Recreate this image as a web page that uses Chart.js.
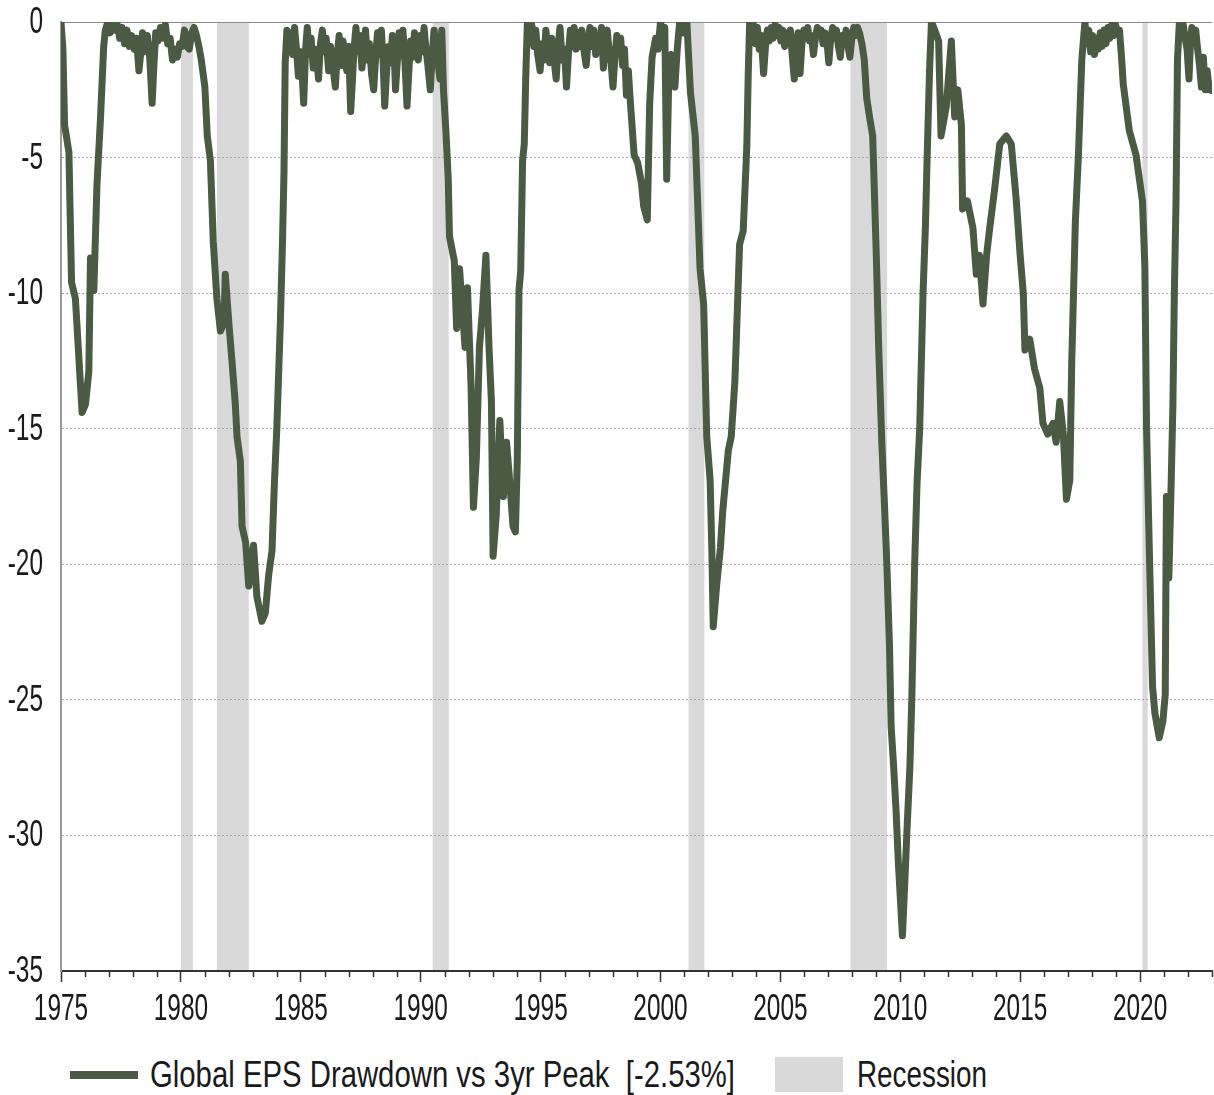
<!DOCTYPE html>
<html>
<head>
<meta charset="utf-8">
<script src="https://cdn.jsdelivr.net/npm/chart.js@4.4.1/dist/chart.umd.min.js"></script>
<style>
  body { margin: 0; background: #ffffff; }
  #wrap { position: relative; width: 1214px; height: 1095px; overflow: hidden; }
  #chart-box { position: absolute; left: 0; top: 0; width: 1214px; height: 1040px; }
  .lg-text {
    position: absolute; top: 1054px; height: 42px; line-height: 42px;
    font-family: "Liberation Sans", Arial, sans-serif;
    font-size: 37px; color: #1a1a1a; white-space: pre;
    transform-origin: 0 50%;
  }
  .lg-line { position: absolute; left: 70px; top: 1071px; width: 68px; height: 8px; background: #4a5a43; }
  .lg-box { position: absolute; left: 775px; top: 1057px; width: 68px; height: 35px; background: #d9d9d9; }
</style>
</head>
<body>
<div id="wrap">
  <div id="chart-box"><canvas id="chart-canvas"></canvas></div>
  <div class="lg-line"></div>
  <div class="lg-text" id="lg-series" style="left:150px" data-width="585">Global EPS Drawdown vs 3yr Peak  [-2.53%]</div>
  <div class="lg-box"></div>
  <div class="lg-text" id="lg-rec" style="left:857px" data-width="130">Recession</div>
</div>
<script>
// ----- data (decimal year, % drawdown vs 3yr peak) -----
var years = [
  // 1975-76 drawdown
  1975.00, 1975.08, 1975.15, 1975.33, 1975.44, 1975.60, 1975.74, 1975.88, 1976.02, 1976.16,
  1976.23, 1976.37, 1976.50, 1976.65, 1976.78,
  // late 70s near peak
  1976.85, 1976.95, 1977.05, 1977.15, 1977.25, 1977.35, 1977.45, 1977.55, 1977.65, 1977.75,
  1977.85, 1977.95, 1978.05, 1978.15, 1978.25, 1978.32, 1978.40, 1978.50, 1978.60, 1978.70,
  1978.80, 1978.88, 1978.95, 1979.05, 1979.15, 1979.25, 1979.35, 1979.45, 1979.55, 1979.65,
  1979.75, 1979.85, 1979.95, 1980.05, 1980.15, 1980.25, 1980.35, 1980.45, 1980.55, 1980.65,
  1980.75, 1980.85,
  // early 80s drawdown
  1981.00, 1981.10, 1981.23, 1981.35, 1981.50, 1981.65, 1981.80, 1981.85, 1982.00, 1982.13,
  1982.27, 1982.34, 1982.48, 1982.55, 1982.70, 1982.83, 1983.03, 1983.17, 1983.38, 1983.52,
  1983.66, 1983.80, 1983.90, 1984.00, 1984.15, 1984.24, 1984.30, 1984.35,
  // mid/late 80s
  1984.42, 1984.50, 1984.58, 1984.66, 1984.74, 1984.82, 1984.90, 1984.98, 1985.05, 1985.12,
  1985.20, 1985.27, 1985.35, 1985.43, 1985.52, 1985.60, 1985.67, 1985.74, 1985.82, 1985.90,
  1985.98, 1986.06, 1986.16, 1986.24, 1986.32, 1986.44, 1986.52, 1986.60, 1986.68, 1986.76,
  1986.84, 1986.92, 1987.00, 1987.08, 1987.15, 1987.22, 1987.30, 1987.38, 1987.46, 1987.55,
  1987.63, 1987.70, 1987.78, 1987.86, 1987.95, 1988.04, 1988.12, 1988.20, 1988.28, 1988.36,
  1988.44, 1988.50, 1988.58, 1988.66, 1988.74, 1988.82, 1988.90, 1988.95, 1989.03, 1989.10,
  1989.18, 1989.26, 1989.35, 1989.43, 1989.50, 1989.58, 1989.66, 1989.74, 1989.82, 1989.90,
  1989.98, 1990.06, 1990.14, 1990.22, 1990.30, 1990.40, 1990.48, 1990.56, 1990.64, 1990.72,
  1990.80, 1990.88,
  // early 90s drawdown
  1990.95, 1991.05, 1991.15, 1991.20, 1991.40, 1991.50, 1991.62, 1991.85, 1991.95, 1992.10,
  1992.20, 1992.32, 1992.45, 1992.58, 1992.72, 1992.85, 1992.95, 1993.02, 1993.15, 1993.30,
  1993.45, 1993.58, 1993.70, 1993.85, 1993.95, 1994.03, 1994.10, 1994.17, 1994.25, 1994.32,
  1994.38,
  // mid/late 90s
  1994.45, 1994.55, 1994.63, 1994.72, 1994.80, 1994.88, 1994.98, 1995.06, 1995.14, 1995.22,
  1995.30, 1995.38, 1995.46, 1995.55, 1995.65, 1995.73, 1995.81, 1995.90, 1996.00, 1996.08,
  1996.16, 1996.24, 1996.32, 1996.40, 1996.48, 1996.56, 1996.64, 1996.72, 1996.80, 1996.90,
  1996.98, 1997.06, 1997.14, 1997.22, 1997.30, 1997.38, 1997.46, 1997.54, 1997.62, 1997.70,
  1997.78, 1997.86, 1997.94, 1998.02, 1998.10, 1998.18, 1998.26, 1998.34, 1998.42, 1998.50,
  1998.58, 1998.66, 1998.74,
  // 1999 dip and dot-com drawdown
  1998.90, 1999.05, 1999.20, 1999.30, 1999.45, 1999.55, 1999.65, 1999.80, 1999.90, 2000.00,
  2000.10, 2000.18, 2000.26, 2000.35, 2000.45, 2000.60, 2000.70, 2000.80, 2000.95, 2001.10,
  2001.25, 2001.45, 2001.65, 2001.80, 2001.93, 2002.07, 2002.14, 2002.20, 2002.35, 2002.50,
  2002.60, 2002.83, 2002.95, 2003.10, 2003.30, 2003.45, 2003.60, 2003.66,
  // 2003-2008 near peak
  2003.72, 2003.80, 2003.88, 2003.96, 2004.04, 2004.12, 2004.20, 2004.30, 2004.38, 2004.46,
  2004.54, 2004.62, 2004.70, 2004.78, 2004.86, 2004.94, 2005.02, 2005.10, 2005.18, 2005.26,
  2005.34, 2005.42, 2005.50, 2005.58, 2005.66, 2005.74, 2005.82, 2005.90, 2005.98, 2006.06,
  2006.14, 2006.22, 2006.30, 2006.38, 2006.46, 2006.54, 2006.62, 2006.70, 2006.78, 2006.86,
  2006.94, 2007.02, 2007.10, 2007.18, 2007.26, 2007.34, 2007.42, 2007.50, 2007.58, 2007.66,
  2007.74, 2007.82, 2007.90, 2007.98, 2008.06, 2008.14, 2008.22, 2008.30, 2008.40, 2008.50,
  // GFC
  2008.60, 2008.72, 2008.85, 2009.00, 2009.10, 2009.23, 2009.35, 2009.44, 2009.55, 2009.62,
  2009.72, 2009.82, 2009.92, 2010.09, 2010.20, 2010.27, 2010.40, 2010.48, 2010.60, 2010.70,
  2010.81, 2010.95, 2011.05, 2011.12, 2011.22,
  // 2011-2017
  2011.30, 2011.44, 2011.60, 2011.70, 2011.92, 2012.13, 2012.27, 2012.40, 2012.55, 2012.60,
  2012.80, 2013.03, 2013.17, 2013.30, 2013.45, 2013.60, 2013.73, 2013.93, 2014.15, 2014.42,
  2014.63, 2014.84, 2015.00, 2015.13, 2015.20, 2015.40, 2015.60, 2015.82, 2015.95, 2016.15,
  2016.37, 2016.50, 2016.65, 2016.80, 2016.93, 2017.07, 2017.15, 2017.30, 2017.43, 2017.57,
  // 2017-2019 near peak
  2017.70, 2017.78, 2017.86, 2017.94, 2018.02, 2018.10, 2018.18, 2018.26, 2018.34, 2018.42,
  2018.50, 2018.58, 2018.66, 2018.74, 2018.82, 2018.90, 2018.98, 2019.06, 2019.14, 2019.22,
  // Covid
  2019.30, 2019.55, 2019.83, 2020.10, 2020.20, 2020.27, 2020.40, 2020.52, 2020.62, 2020.80,
  2020.95, 2021.05, 2021.10, 2021.20, 2021.30, 2021.37, 2021.43, 2021.50, 2021.56,
  // 2021-2023
  2021.64, 2021.72, 2021.80, 2021.88, 2021.96, 2022.04, 2022.10, 2022.16, 2022.24, 2022.32,
  2022.40, 2022.48, 2022.56, 2022.64, 2022.72, 2022.80, 2022.88, 2022.95, 2023.00
];
var drawdown = [
  // 1975-76 drawdown
  0, -1.0, -3.8, -4.8, -9.6, -10.2, -12.3, -14.4, -14.1, -12.9,
  -8.7, -9.9, -6.0, -3.5, -0.9,
  // late 70s near peak
  -0.3, 0, -0.4, 0, -0.3, -0.1, -0.6, -0.2, -0.8, -0.3,
  -0.9, -0.5, -1.0, -0.6, -1.8, -1.2, -0.4, -1.1, -0.5, -1.3,
  -3.0, -1.5, -0.4, -0.7, -0.2, -0.6, -0.1, -0.8, -0.6, -1.4,
  -1.0, -1.3, -0.8, -0.9, -0.3, -0.9, -1.0, -0.4, -0.2, -0.5,
  -0.9, -1.4,
  // early 80s drawdown
  -2.4, -4.2, -5.1, -8.1, -10.2, -11.4, -11.1, -9.3, -11.1, -12.5,
  -14.1, -15.3, -16.2, -18.6, -19.2, -20.8, -19.3, -21.2, -22.1, -21.8,
  -20.4, -19.5, -17.0, -15.0, -11.0, -8.0, -5.5, -1.5,
  // mid/late 80s
  -0.3, -1.1, -0.4, -1.2, -0.2, -1.0, -2.0, -1.1, -1.8, -3.0,
  -1.0, -0.2, -1.2, -0.6, -1.7, -1.0, -1.4, -2.1, -0.8, -0.3,
  -1.1, -0.6, -1.8, -0.9, -1.5, -2.4, -1.2, -0.5, -1.6, -0.7,
  -1.3, -1.8, -0.9, -3.3, -2.2, -1.0, -0.2, -1.1, -0.5, -1.7,
  -1.0, -0.3, -1.4, -0.8, -1.9, -2.5, -1.3, -0.4, -1.2, -0.3,
  -1.6, -3.1, -1.8, -0.9, -1.5, -0.5, -1.3, -2.5, -1.4, -0.4,
  -1.2, -0.3, -1.6, -3.1, -1.9, -0.7, -1.3, -0.4, -1.0, -1.4,
  -0.5, -1.1, -0.2, -1.0, -1.6, -2.5, -1.2, -0.3, -0.8, -1.5,
  -2.1, -0.3,
  // early 90s drawdown
  -2.5, -4.0, -5.8, -7.9, -8.8, -11.3, -9.1, -12.0, -9.8, -13.4,
  -17.9, -16.1, -12.0, -10.6, -8.6, -12.0, -14.0, -19.7, -18.2, -14.7,
  -17.5, -15.5, -16.8, -18.6, -18.8, -16.1, -9.9, -9.2, -5.1, -4.5,
  -2.1,
  // mid/late 90s
  0, -0.6, -0.1, -0.9, -0.3, -1.2, -1.8, -0.8, -1.4, -0.3,
  -1.0, -1.5, -0.6, -1.3, -2.1, -0.9, -0.2, -1.4, -1.0, -2.4,
  -1.2, -0.3, -0.9, -0.2, -1.0, -0.4, -0.9, -0.3, -1.0, -1.6,
  -0.7, -0.2, -0.9, -0.3, -1.2, -0.6, -1.0, -0.2, -1.7, -0.8,
  -0.3, -1.1, -1.5, -2.4, -1.3, -0.5, -1.2, -0.6, -1.6, -1.0,
  -2.7, -1.8, -2.9,
  // 1999 dip and dot-com drawdown
  -4.9, -5.2, -5.9, -6.8, -7.3, -3.0, -1.3, -0.6, -1.0, 0,
  -0.4, -0.2, -5.8, -1.9, -1.2, -2.4, -1.0, 0, -0.4, 0,
  -2.6, -4.2, -9.1, -10.4, -15.3, -16.9, -19.4, -22.3, -20.7, -19.4,
  -18.0, -15.8, -15.3, -13.3, -8.2, -7.7, -4.6, -1.9,
  // 2003-2008 near peak
  0, -0.4, -0.1, -0.8, -0.2, -1.0, -0.5, -1.9, -0.9, -0.3,
  -0.7, -0.2, -0.6, -0.1, -0.5, -0.2, -0.7, -0.3, -0.9, -0.4,
  -0.8, -0.3, -1.3, -2.1, -1.0, -0.4, -1.9, -0.8, -0.3, -0.6,
  -0.2, -0.7, -0.5, -1.2, -0.6, -0.2, -0.5, -0.3, -0.8, -0.4,
  -0.7, -1.5, -0.6, -0.2, -0.6, -0.3, -0.9, -1.3, -0.5, -0.8,
  -0.3, -0.9, -1.3, -0.6, -0.2, -0.5, -0.2, -0.4, -0.8, -1.4,
  // GFC
  -2.8, -3.5, -4.2, -8.6, -12.0, -15.5, -18.0, -20.0, -23.0, -26.0,
  -27.4, -29.0, -31.0, -33.7, -31.5, -30.0, -27.5, -25.0, -20.0, -17.0,
  -15.0, -10.0, -7.5, -5.0, -1.8,
  // 2011-2017
  0, -0.3, -0.7, -4.2, -3.1, -0.7, -3.5, -2.5, -3.8, -6.9,
  -6.6, -7.6, -9.3, -8.6, -10.4, -8.6, -7.6, -6.2, -4.5, -4.2,
  -4.5, -6.6, -8.6, -10.0, -12.1, -11.7, -12.8, -13.5, -14.8, -15.2,
  -14.8, -15.5, -14.0, -15.2, -17.6, -16.9, -12.6, -7.4, -4.9, -1.4,
  // 2017-2019 near peak
  0, -0.8, -0.3, -1.1, -0.5, -1.2, -0.6, -1.0, -0.4, -0.9,
  -0.3, -0.8, -0.2, -0.6, -0.1, -0.5, -0.1, -0.4, -0.3, -1.2,
  // Covid
  -2.3, -4.0, -4.9, -6.6, -9.0, -14.9, -20.0, -24.5, -25.5, -26.4,
  -25.8, -24.8, -17.5, -20.5, -16.9, -14.1, -10.0, -6.6, -1.4,
  // 2021-2023
  0, -0.4, -0.1, -0.6, -1.0, -2.1, -0.8, -0.2, -0.6, -0.3,
  -1.0, -1.6, -2.4, -1.3, -2.5, -1.8, -2.5, -2.3, -2.53
];

// US recession periods (decimal years)
var recessionStart = [1980.00, 1981.50, 1990.50, 2001.17, 2007.92, 2020.10];
var recessionEnd   = [1980.50, 1982.83, 1991.17, 2001.83, 2009.45, 2020.32];

if (years.length !== drawdown.length) {
  console.error("years/drawdown length mismatch", years.length, drawdown.length);
}

var LINE_COLOR = "#4a5a43";
var BAND_COLOR = "#d9d9d9";
var LABEL_FONT = "37px 'Liberation Sans', Arial, sans-serif";
var LABEL_SQUEEZE = 0.66;   // reference labels are tall and narrow

// Grey recession bands behind the grid and line
var recessionBands = {
  id: "recessionBands",
  beforeDraw: function(chart) {
    var xs = chart.scales.x;
    var area = chart.chartArea;
    var ctx = chart.ctx;
    ctx.save();
    ctx.fillStyle = BAND_COLOR;
    for (var i = 0; i < recessionStart.length; i++) {
      var x0 = xs.getPixelForValue(recessionStart[i]);
      var x1 = xs.getPixelForValue(recessionEnd[i]);
      ctx.fillRect(x0, area.top, x1 - x0, area.bottom - area.top);
    }
    ctx.restore();
  }
};

// Minor year ticks and narrow tick labels, placed with the chart's own scales
var axisDecor = {
  id: "axisDecor",
  afterDraw: function(chart) {
    var xs = chart.scales.x;
    var ys = chart.scales.y;
    var area = chart.chartArea;
    var ctx = chart.ctx;
    ctx.save();
    ctx.strokeStyle = "#333333";
    ctx.lineWidth = 1.5;
    ctx.beginPath();
    xs.ticks.forEach(function(t) {
      if (t.value % 5 === 0) return;
      var px = Math.round(xs.getPixelForValue(t.value)) + 0.5;
      ctx.moveTo(px, area.bottom);
      ctx.lineTo(px, area.bottom + 6);
    });
    ctx.stroke();

    ctx.fillStyle = "#1a1a1a";
    ctx.font = LABEL_FONT;
    ctx.textBaseline = "alphabetic";
    xs.ticks.forEach(function(t) {
      if (t.value % 5 !== 0) return;
      ctx.save();
      ctx.translate(xs.getPixelForValue(t.value), area.bottom + 49);
      ctx.scale(LABEL_SQUEEZE, 1);
      ctx.textAlign = "center";
      ctx.fillText(String(t.value), 0, 0);
      ctx.restore();
    });
    ys.ticks.forEach(function(t) {
      ctx.save();
      ctx.translate(43, ys.getPixelForValue(t.value) + 11);
      ctx.scale(LABEL_SQUEEZE, 1);
      ctx.textAlign = "right";
      ctx.fillText(String(t.value), 0, 0);
      ctx.restore();
    });
    ctx.restore();
  }
};

var points = years.map(function(y, i) { return { x: y, y: drawdown[i] }; });

var ctx = document.getElementById("chart-canvas").getContext("2d");
var chartInstance = new Chart(ctx, {
  type: "line",
  data: {
    datasets: [{
      label: "Global EPS Drawdown vs 3yr Peak",
      data: points,
      borderColor: LINE_COLOR,
      borderWidth: 7,
      borderJoinStyle: "round",
      borderCapStyle: "round",
      pointRadius: 0,
      tension: 0,
      fill: false,
      clip: 0,
    }],
  },
  options: {
    responsive: true,
    maintainAspectRatio: false,
    animation: false,
    layout: { padding: { top: 22, right: 2, left: 0, bottom: 0 } },
    plugins: {
      legend: { display: false },
      tooltip: { enabled: false },
    },
    scales: {
      x: {
        type: "linear",
        min: 1975,
        max: 2023,
        afterFit: function(scale) { scale.height = 69; },
        grid: {
          drawOnChartArea: false,
          drawTicks: true,
          tickLength: 11,
          tickWidth: 1.5,
          tickColor: function(c) {
            return (c.tick && c.tick.value % 5 === 0) ? "#333333" : "rgba(0,0,0,0)";
          },
        },
        border: { display: true, color: "#333333", width: 2 },
        ticks: { display: false, stepSize: 1, autoSkip: false },
      },
      y: {
        min: -35,
        max: 0,
        afterFit: function(scale) { scale.width = 61; },
        grid: {
          drawTicks: false,
          lineWidth: 1,
          color: function(c) {
            if (!c.tick) return "#aaaaaa";
            if (c.tick.value === -35) return "rgba(0,0,0,0)";
            if (c.tick.value === 0) return "#8a8a8a";
            return "#a8a8a8";
          },
        },
        border: {
          display: true,
          color: "#9a9a9a",
          width: 2,
          dash: function(c) {
            return (c.tick && c.tick.value === 0) ? [] : [2, 2];
          },
        },
        ticks: { display: false, stepSize: 5 },
      },
    },
  },
  plugins: [recessionBands, axisDecor],
});

// Squeeze legend text to the reference widths
["lg-series", "lg-rec"].forEach(function(id) {
  var el = document.getElementById(id);
  var target = parseFloat(el.getAttribute("data-width"));
  var w = el.getBoundingClientRect().width;
  if (w > 0) el.style.transform = "scaleX(" + (target / w) + ")";
});
</script>
</body>
</html>
